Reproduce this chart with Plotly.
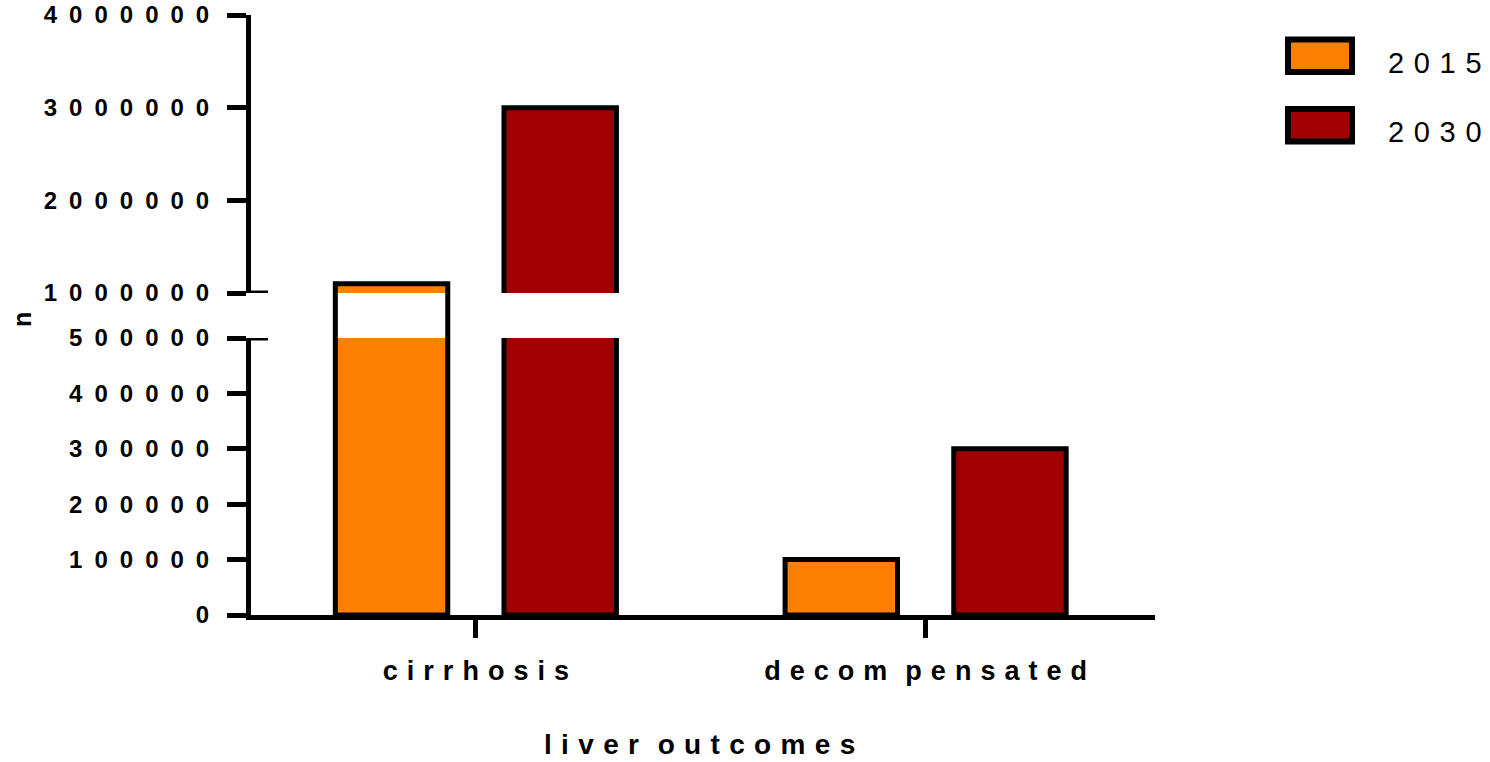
import plotly.graph_objects as go

# ---- data -------------------------------------------------------------
categories = ["cirrhosis", "decompensated"]
category_labels = ["cirrhosis", "decom pensated"]
series_names = ["2015", "2030"]
values_2015 = [1100000, 100000]
values_2030 = [3000000, 300000]
series_values = [values_2015, values_2030]
series_colors = ["#FF8000", "#A00000"]

lower_ticks = [0, 100000, 200000, 300000, 400000, 500000]
upper_ticks = [1000000, 2000000, 3000000, 4000000]
x_title = "liver outcomes"
y_title = "n"

# ---- geometry ----------------------------------------------------------
W, H = 1490, 762
ML, MR, MT, MB = 251, 335, 15, 147
PW, PH = W - ML - MR, H - MT - MB

LOWER_MAX = 500000      # top of the lower segment
UPPER_MIN = 1000000     # bottom of the upper segment
lower_dom = [0, (615 - 338) / PH]
upper_dom = [(615 - 293) / PH, 1]

FONT = "Liberation Sans, Arial, sans-serif"
THIRD = "\u2004"              # three-per-em space
DIGIT_GAP = "\u2002"          # en space


def spaced(text, gap=THIRD):
    """Letter-spaced label; a blank in the text becomes a wider gap."""
    words = text.split(" ")
    return (gap * 2).join(gap.join(w) for w in words)


def px_x(px):
    return (px - ML) / PW


def px_y(py):
    return (MT + PH - py) / PH


BAR_W = 0.25
BAR_STEP = 0.375

fig = go.Figure()

for i, (name, vals, col) in enumerate(zip(series_names, series_values, series_colors)):
    off = -0.3125 + i * BAR_STEP
    for ax in ("y", "y2"):
        fig.add_trace(go.Bar(
            x=categories, y=vals, name=name, yaxis=ax,
            width=BAR_W, offset=off,
            marker=dict(color=col, line=dict(color="black", width=5)),
            hoverinfo="skip", showlegend=False,
        ))
    if i == 0:
        # the 2015 bar keeps its outline (unfilled) across the axis break
        fig.add_trace(go.Bar(
            x=categories, y=vals, name=name, yaxis="y3",
            width=BAR_W, offset=off,
            marker=dict(color="white", line=dict(color="black", width=5)),
            hoverinfo="skip", showlegend=False,
        ))

ytick_font = dict(family=FONT, size=24, color="black", weight="bold")
xtick_font = dict(family=FONT, size=27, color="black", weight="bold")
yax_common = dict(
    showline=True, linewidth=5, linecolor="black",
    ticks="outside", ticklen=19, tickwidth=5, tickcolor="black",
    showgrid=False, zeroline=False, tickfont=ytick_font,
    ticklabelstandoff=13, anchor="x", fixedrange=True,
)


def digit_label(v):
    return DIGIT_GAP.join(str(v))


fig.update_layout(
    width=W, height=H,
    margin=dict(l=ML, r=MR, t=MT, b=MB, autoexpand=False),
    paper_bgcolor="white", plot_bgcolor="white",
    barmode="overlay", showlegend=False,
    xaxis=dict(
        type="category", range=[-0.5, 1.51],
        tickvals=categories, ticktext=[spaced(c) for c in category_labels],
        showline=True, linewidth=5, linecolor="black",
        ticks="outside", ticklen=18, tickwidth=5, tickcolor="black",
        showgrid=False, zeroline=False, tickfont=xtick_font,
        ticklabelstandoff=10, anchor="y", fixedrange=True,
    ),
    yaxis=dict(domain=lower_dom, range=[0, LOWER_MAX], tickvals=lower_ticks,
               ticktext=[digit_label(v) for v in lower_ticks], **yax_common),
    yaxis2=dict(domain=upper_dom, range=[UPPER_MIN, 4000000], tickvals=upper_ticks,
                ticktext=[digit_label(v) for v in upper_ticks], **yax_common),
    yaxis3=dict(domain=[lower_dom[1], upper_dom[0]], range=[LOWER_MAX, UPPER_MIN],
                visible=False, anchor="x", fixedrange=True),
)

# break marks on the y axis, reaching inside the plot
brk = px_x(268)
fig.add_shape(type="line", xref="paper", yref="y2", x0=0, x1=brk,
              y0=UPPER_MIN, y1=UPPER_MIN, line=dict(color="black", width=5))
fig.add_shape(type="line", xref="paper", yref="y", x0=0, x1=brk,
              y0=LOWER_MAX, y1=LOWER_MAX, line=dict(color="black", width=5))

# axis titles
fig.add_annotation(text=spaced(x_title), xref="paper", yref="paper",
                   x=px_x(699), y=px_y(744), showarrow=False,
                   xanchor="center", yanchor="middle",
                   font=dict(family=FONT, size=28, color="black", weight="bold"))
fig.add_annotation(text=y_title, xref="paper", yref="paper",
                   x=px_x(22), y=px_y(320), showarrow=False, textangle=-90,
                   xanchor="center", yanchor="middle",
                   font=dict(family=FONT, size=25, color="black", weight="bold"))

# legend with large swatches
for i, (name, col) in enumerate(zip(series_names, series_colors)):
    top = 39.5 + i * 69.5
    fig.add_shape(type="rect", xref="paper", yref="paper",
                  x0=px_x(1288), x1=px_x(1352), y0=px_y(top), y1=px_y(top + 32.5),
                  fillcolor=col, line=dict(color="black", width=6))
    fig.add_annotation(text=spaced(name), xref="paper", yref="paper",
                       x=px_x(1386), y=px_y(top + 23), showarrow=False,
                       xanchor="left", yanchor="middle",
                       font=dict(family=FONT, size=29, color="black"))

fig.write_html("out.html", config={"displayModeBar": False})
